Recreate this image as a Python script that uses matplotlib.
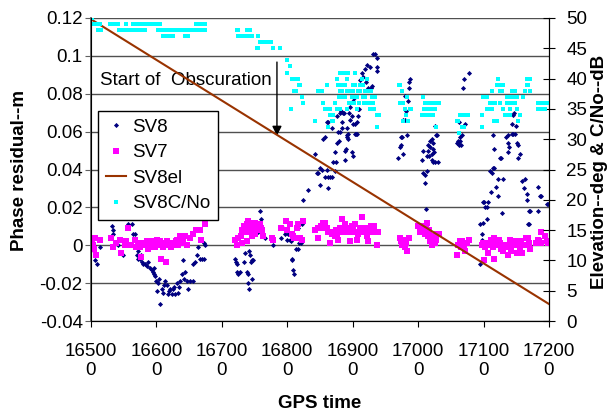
import numpy as np
import matplotlib.pyplot as plt
from matplotlib.ticker import FuncFormatter, MultipleLocator

plt.rcParams['font.family'] = ['Liberation Sans', 'DejaVu Sans']
plt.rcParams['font.size'] = 13.5

# SV8 phase residual (m) : (GPS time, residual)
sv8 = np.array([
    (165015, 0.002), (165031, 0.000), (165046, -0.003), (165061, -0.008), (165092, -0.010), (165138, -0.001),
    (165321, 0.010), (165330, 0.008), (165336, 0.006), (165367, 0.001), (165413, 0.000), (165489, -0.005),
    (165550, 0.000), (165565, 0.011), (165626, 0.011), (165642, 0.006), (165672, 0.006), (165688, 0.002),
    (165703, -0.005), (165718, -0.007), (165720, -0.003), (165749, -0.007), (165760, -0.005), (165779, -0.009),
    (165795, -0.010), (165825, -0.010), (165856, -0.011), (165871, -0.009), (165902, -0.012), (165932, -0.013),
    (165947, -0.014), (165963, -0.015), (165965, -0.012), (165978, -0.016), (165993, -0.019), (166008, -0.024),
    (166024, -0.020), (166040, -0.018), (166054, -0.031), (166085, -0.023), (166100, -0.025), (166110, -0.021),
    (166131, -0.019), (166161, -0.021), (166177, -0.026), (166190, -0.024), (166207, -0.023), (166238, -0.026),
    (166253, -0.023), (166270, -0.022), (166284, -0.026), (166314, -0.020), (166329, -0.025), (166345, -0.022),
    (166360, -0.019), (166390, -0.015), (166406, -0.008), (166420, -0.018), (166436, -0.014), (166467, -0.019),
    (166482, -0.023), (166513, -0.019), (166559, -0.019), (166565, -0.010), (166589, -0.009), (166620, -0.005),
    (166635, -0.001), (166666, -0.007), (166696, -0.007), (166720, 0.001), (166727, -0.007), (166742, 0.000),
    (167200, -0.007), (167216, -0.009), (167231, -0.010), (167235, -0.014), (167246, -0.015), (167277, -0.014),
    (167307, 0.001), (167338, -0.009), (167353, -0.004), (167384, -0.014), (167395, -0.020), (167399, -0.015),
    (167414, -0.003), (167420, -0.023), (167430, -0.005), (167445, -0.009), (167460, -0.008), (167465, -0.018),
    (167475, -0.008), (167506, 0.009), (167537, 0.009), (167552, 0.007), (167582, 0.018), (167598, 0.014),
    (167628, 0.006), (167659, 0.004),
    (167781, 0.000), (167903, 0.004), (167934, 0.009), (167964, 0.006), (167995, 0.003), (168010, 0.006),
    (168041, 0.003), (168056, 0.002), (168071, -0.007), (168075, -0.008), (168087, -0.013), (168102, -0.015),
    (168132, -0.002), (168163, -0.002), (168163, 0.009), (168178, 0.001), (168209, 0.001), (168224, 0.011),
    (168239, 0.024),
    (168316, 0.029), (168423, 0.048), (168453, 0.038), (168469, 0.038), (168499, 0.032), (168499, 0.041),
    (168530, 0.040), (168545, 0.056), (168576, 0.057), (168576, 0.036), (168606, 0.040), (168606, 0.065),
    (168621, 0.030), (168621, 0.065), (168625, 0.036), (168652, 0.036), (168682, 0.062), (168682, 0.036),
    (168698, 0.044), (168728, 0.049), (168728, 0.039), (168743, 0.044), (168759, 0.054), (168759, 0.068),
    (168774, 0.060), (168789, 0.055), (168805, 0.070), (168805, 0.060), (168820, 0.071), (168835, 0.062),
    (168840, 0.065), (168850, 0.070), (168866, 0.070), (168881, 0.045), (168881, 0.050), (168896, 0.051),
    (168911, 0.062), (168911, 0.057), (168920, 0.058), (168927, 0.059), (168935, 0.056), (168942, 0.070),
    (168958, 0.073), (168958, 0.066), (168988, 0.049), (168988, 0.068), (169003, 0.047), (169003, 0.076),
    (169010, 0.064), (169018, 0.078), (169034, 0.059), (169034, 0.064), (169049, 0.059), (169064, 0.065),
    (169064, 0.059), (169080, 0.072), (169080, 0.068), (169095, 0.072), (169110, 0.087), (169141, 0.091),
    (169156, 0.089), (169187, 0.093), (169202, 0.086), (169217, 0.095), (169233, 0.083), (169263, 0.094),
    (169278, 0.083), (169294, 0.084), (169309, 0.101), (169339, 0.101), (169370, 0.099), (169370, 0.094),
    (169375, 0.092),
    (169691, 0.046), (169722, 0.052), (169737, 0.057), (169737, 0.053), (169752, 0.057), (169767, 0.066),
    (169767, 0.048), (169798, 0.066), (169798, 0.079), (169813, 0.071), (169828, 0.058), (169844, 0.076),
    (169859, 0.086), (169859, 0.083), (169874, 0.088),
    (170058, 0.045), (170073, 0.038), (170073, 0.050), (170104, 0.033), (170104, 0.037), (170119, 0.019),
    (170134, 0.047), (170134, 0.039), (170150, 0.050), (170150, 0.053), (170165, 0.047), (170180, 0.052),
    (170180, 0.055), (170211, 0.048), (170211, 0.056), (170211, 0.045), (170226, 0.044), (170226, 0.054),
    (170226, 0.051), (170241, 0.049), (170256, 0.063), (170256, 0.044), (170272, 0.058), (170287, 0.058),
    (170302, 0.044),
    (170592, 0.054), (170608, 0.055), (170608, 0.054), (170623, 0.053), (170623, 0.065), (170638, 0.057),
    (170638, 0.055), (170653, 0.053), (170669, 0.058), (170684, 0.083), (170699, 0.088), (170714, 0.064),
    (170776, 0.091),
    (170944, -0.010), (170944, 0.011), (170974, 0.006), (170974, 0.003), (170990, 0.012), (170990, 0.023),
    (171005, 0.023), (171020, 0.020), (171051, 0.014), (171051, 0.020), (171066, 0.023), (171097, 0.039),
    (171112, 0.028), (171127, 0.038), (171143, 0.041), (171143, 0.058), (171158, 0.051), (171158, 0.041),
    (171188, 0.031), (171219, 0.035), (171219, 0.026), (171250, 0.046), (171265, 0.046), (171280, 0.017),
    (171296, 0.035), (171341, 0.057), (171372, 0.058), (171372, 0.054), (171372, 0.049), (171387, 0.052),
    (171433, 0.059), (171433, 0.064), (171448, 0.059), (171448, 0.069), (171464, 0.070), (171479, 0.059),
    (171494, 0.063), (171509, 0.054), (171525, 0.053), (171525, 0.046), (171555, 0.048), (171586, 0.034),
    (171616, 0.030), (171632, 0.035), (171662, 0.027), (171662, 0.024), (171677, 0.011), (171693, 0.018),
    (171693, 0.011), (171708, 0.018), (171830, 0.031), (171830, 0.018), (171861, 0.026), (171876, 0.026),
    (171968, 0.022), (171983, 0.022),
])

# SV7 phase residual (m)
sv7 = np.array([
    (165000, 0.004), (165015, 0.002), (165031, 0.000), (165046, -0.002), (165061, 0.004), (165076, -0.005),
    (165138, 0.003),
    (165306, 0.004), (165336, -0.001), (165382, 0.001), (165443, 0.003), (165458, -0.004), (165520, 0.000),
    (165535, 0.002), (165565, 0.009), (165611, 0.000), (165672, 0.003), (165688, -0.001), (165718, 0.001),
    (165749, -0.001), (165764, -0.006), (165779, 0.000), (165795, 0.001), (165825, 0.000), (165840, 0.001),
    (165856, 0.002), (165871, -0.002), (165902, 0.001), (165917, -0.001), (165932, 0.002), (165947, 0.000),
    (165978, -0.001), (165993, 0.001), (166008, 0.003), (166024, 0.000), (166054, 0.002), (166069, -0.007),
    (166085, 0.000), (166100, -0.001), (166131, 0.001), (166146, -0.009), (166161, 0.002), (166177, 0.000),
    (166207, 0.001), (166222, -0.001), (166238, 0.000), (166253, 0.001), (166284, 0.000), (166299, 0.002),
    (166314, 0.003), (166329, 0.000), (166360, 0.005), (166390, 0.001), (166406, 0.002), (166436, 0.005),
    (166467, 0.000), (166513, 0.004), (166559, 0.006), (166604, 0.008), (166666, 0.008), (166681, 0.003),
    (166742, 0.011),
    (167200, 0.003), (167231, 0.000), (167246, 0.004), (167292, 0.005), (167307, 0.008), (167307, 0.001),
    (167338, 0.010), (167368, 0.007), (167384, 0.011), (167384, 0.002), (167399, 0.013), (167414, 0.010),
    (167430, 0.009), (167445, 0.012), (167460, 0.008), (167460, 0.005), (167475, 0.010), (167490, 0.009),
    (167506, 0.012), (167506, 0.006), (167521, 0.010), (167537, 0.009), (167552, 0.008), (167567, 0.010),
    (167582, 0.011), (167598, 0.009), (167613, 0.008), (167628, 0.005),
    (167766, 0.004), (167781, 0.003), (167903, 0.009), (167979, 0.013), (167995, 0.008), (168041, 0.011),
    (168071, 0.006), (168087, 0.005), (168102, 0.004), (168148, 0.009), (168163, 0.011), (168194, 0.004),
    (168224, 0.003), (168239, 0.013),
    (168423, 0.008), (168469, 0.009), (168469, 0.004), (168514, 0.010), (168530, 0.009), (168545, 0.012),
    (168576, 0.012), (168606, 0.009), (168621, 0.007), (168652, 0.001), (168682, 0.006), (168698, 0.007),
    (168728, 0.005), (168743, 0.008), (168759, 0.006), (168774, 0.003), (168805, 0.009), (168835, 0.014),
    (168850, 0.007), (168866, 0.008), (168881, 0.011), (168911, 0.009), (168927, 0.007), (168942, 0.009),
    (168958, 0.002), (168988, 0.010), (169003, 0.008), (169018, 0.007), (169034, 0.011), (169064, 0.003),
    (169080, 0.006), (169110, 0.009), (169141, 0.015), (169156, 0.007), (169187, 0.009), (169202, 0.008),
    (169217, 0.005), (169233, 0.002), (169263, 0.008), (169278, 0.010), (169294, 0.007), (169309, 0.009),
    (169324, 0.010), (169339, 0.007), (169370, 0.000), (169385, 0.007),
    (169722, 0.004), (169737, 0.002), (169752, 0.000), (169767, 0.003), (169783, 0.000), (169798, -0.001),
    (169813, 0.001), (169828, -0.003), (169859, 0.004),
    (169997, 0.010), (170027, 0.007), (170058, 0.008), (170073, 0.010), (170104, 0.006), (170119, 0.009),
    (170134, 0.012), (170150, 0.005), (170165, 0.008), (170180, 0.002), (170196, 0.004), (170211, 0.000),
    (170226, 0.003), (170241, 0.005), (170256, 0.001), (170272, 0.003), (170287, 0.006), (170317, 0.006),
    (170592, -0.005), (170608, 0.000), (170638, 0.002), (170653, -0.001), (170669, 0.002), (170699, 0.000),
    (170714, -0.003), (170745, 0.001), (170776, 0.003),
    (170974, 0.000), (170990, 0.001), (171005, -0.008), (171020, -0.001), (171051, 0.001), (171066, -0.004),
    (171097, 0.000), (171112, 0.003), (171143, -0.001), (171158, 0.004), (171158, -0.007), (171188, 0.000),
    (171204, 0.002), (171235, 0.003), (171250, 0.001), (171265, -0.002), (171296, -0.003), (171326, 0.000),
    (171357, -0.001), (171372, -0.005), (171387, 0.000), (171402, 0.003), (171418, -0.003), (171433, 0.001),
    (171448, 0.002), (171464, 0.000), (171479, 0.000), (171494, 0.002), (171509, -0.004), (171525, 0.000),
    (171540, 0.001), (171555, -0.001), (171570, 0.002), (171586, -0.004), (171616, 0.000), (171647, 0.004),
    (171677, 0.004), (171693, 0.001), (171708, -0.002), (171800, 0.001), (171830, 0.003), (171845, 0.002),
    (171876, 0.007), (171876, 0.001), (171937, 0.005), (171968, 0.002), (171983, 0.001),
])

# SV8 elevation (deg)
sv8el_time = [165000, 172000]
sv8el_deg = [49.8, 2.8]

# SV8 C/No (dB)
sv8cn0 = np.array([
    (165000, 50), (165020, 50), (165015, 49), (165045, 49), (165075, 49), (165105, 49), (165135, 49),
    (165110, 48), (165150, 48), (165290, 49), (165330, 49), (165370, 49), (165410, 49), (165535, 49),
    (165430, 48), (165475, 48), (165520, 48), (165565, 48), (165610, 48), (165655, 48), (165700, 48),
    (165745, 48), (165790, 48), (165825, 48),
    (165645, 49), (165690, 49), (165735, 49), (165780, 49), (165825, 49), (165870, 49), (165915, 49),
    (165960, 49), (166005, 49), (166050, 49),
    (166025, 48), (166070, 48), (166115, 48), (166160, 48), (166205, 48), (166250, 48), (166295, 48),
    (166340, 48), (166385, 48), (166430, 48), (166475, 48), (166520, 48), (166565, 48), (166610, 48),
    (166655, 48), (166700, 48), (166740, 48),
    (166100, 47), (166145, 47), (166190, 47), (166235, 47), (166255, 47), (166440, 47), (166480, 47),
    (166605, 49), (166650, 49), (166695, 49), (166740, 49),
    (167230, 48), (167250, 48), (167385, 48), (167430, 48),
    (167245, 47), (167290, 47), (167335, 47), (167380, 47), (167425, 47), (167460, 47), (167550, 47),
    (167580, 46), (167625, 46), (167660, 46), (167705, 46), (167750, 46),
    (167535, 45), (167550, 45), (167780, 45), (167890, 45),
    (167995, 43), (168040, 42), (167995, 41), (168070, 40), (168115, 40), (168160, 40), (168180, 39),
    (168100, 38), (168130, 38), (168225, 37), (168240, 36), (168055, 35), (168194, 39),
    (168423, 33), (168469, 38), (168499, 38), (168530, 38), (168545, 36), (168576, 35), (168606, 35),
    (168621, 35), (168606, 39), (168621, 32), (168652, 34), (168652, 35), (168682, 33), (168698, 33),
    (168698, 34), (168728, 36), (168759, 35), (168759, 40), (168774, 39), (168789, 37), (168805, 41),
    (168805, 38), (168805, 35), (168835, 39), (168835, 38), (168850, 41), (168850, 37), (168866, 41),
    (168881, 37), (168881, 39), (168896, 41), (168911, 40), (168911, 38), (168911, 35), (168927, 41),
    (168942, 36), (168958, 38), (168958, 36), (168988, 37), (169003, 39), (169003, 38), (169018, 36),
    (169034, 41), (169034, 39), (169049, 37), (169064, 37), (169064, 35), (169080, 38), (169095, 36),
    (169110, 39), (169110, 38), (169141, 40), (169141, 39), (169156, 39), (169156, 37), (169172, 36),
    (169187, 37), (169187, 38), (169202, 36), (169217, 36), (169217, 40), (169233, 38), (169263, 36),
    (169263, 35), (169278, 38), (169294, 35), (169294, 37), (169309, 36), (169324, 35), (169339, 37),
    (169370, 34), (169385, 34), (169370, 32), (169400, 34),
    (169706, 39), (169722, 39), (169752, 38), (169722, 36), (169752, 36), (169767, 36), (169767, 33),
    (169798, 35), (169813, 34), (169828, 37), (169844, 33), (169874, 35), (169889, 35),
    (170058, 34), (170073, 37), (170088, 35), (170104, 36), (170119, 34), (170134, 36), (170150, 35),
    (170165, 34), (170180, 36), (170196, 35), (170211, 36), (170226, 34), (170241, 36), (170256, 35),
    (170272, 32), (170287, 36), (170302, 36), (170317, 36),
    (170592, 33), (170608, 33), (170623, 31), (170638, 34), (170669, 32), (170684, 34), (170699, 32),
    (170714, 34), (170760, 34),
    (170974, 34), (170974, 32), (170990, 37), (171020, 37), (171051, 37), (171051, 35), (171097, 35),
    (171097, 36), (171127, 38), (171127, 35), (171143, 36), (171158, 33), (171173, 36), (171204, 33),
    (171204, 39), (171219, 40), (171250, 39), (171250, 38), (171250, 36), (171280, 38), (171296, 35),
    (171296, 39), (171326, 34), (171357, 37), (171357, 36), (171372, 34), (171372, 36), (171402, 35),
    (171402, 37), (171402, 34), (171433, 38), (171433, 36), (171448, 37), (171479, 38), (171479, 36),
    (171509, 37), (171509, 35), (171525, 33), (171555, 34), (171601, 37), (171632, 38), (171662, 40),
    (171662, 39), (171677, 39), (171708, 38), (171708, 40), (171830, 36), (171830, 35), (171861, 36),
    (171891, 35), (171907, 36), (171937, 35), (171968, 36),
])

fig = plt.figure(figsize=(6.08, 4.13), dpi=100)
ax = fig.add_axes([91 / 608, 1 - 321 / 413, 458 / 608, 303 / 413])
ax2 = ax.twinx()

l8, = ax.plot(sv8[:, 0], sv8[:, 1], 'D', color='#000080', ms=2.6, mew=0, label='SV8')
l7, = ax.plot(sv7[:, 0], sv7[:, 1], 's', color='#FF00FF', ms=4.4, mew=0, label='SV7')
lel, = ax2.plot(sv8el_time, sv8el_deg, '-', color='#993300', lw=1.5, label='SV8el')
lcn, = ax2.plot(sv8cn0[:, 0], sv8cn0[:, 1], 's', color='#00FFFF', ms=2.7, mew=0, label='SV8C/No')

ax.set_xlim(165000, 172000)
ax.set_ylim(-0.04, 0.12)
ax2.set_ylim(0, 50)
ax.xaxis.set_major_locator(MultipleLocator(1000))
ax.yaxis.set_major_locator(MultipleLocator(0.02))
ax2.yaxis.set_major_locator(MultipleLocator(5))
ax.xaxis.set_major_formatter(FuncFormatter(lambda v, p: "%d\n%d" % (int(round(v)) // 10, int(round(v)) % 10)))
ax.yaxis.set_major_formatter(FuncFormatter(lambda v, p: "%g" % round(v, 3)))

ax.grid(axis='y', color='#505050', lw=1)
ax.set_axisbelow(True)
ax.spines['top'].set_visible(False)
ax2.spines['top'].set_visible(False)
ax.spines['left'].set_color('#606060')
ax.spines['left'].set_linewidth(1.3)
ax2.spines['right'].set_color('black')
ax.tick_params(axis='y', direction='out', length=4.5, pad=1.5, color='#606060')
ax.tick_params(axis='x', direction='out', length=4.5, pad=11)
ax2.tick_params(axis='y', direction='inout', length=9, pad=8)

ax.text(165138, 0.0845, 'Start of  Obscuration', va='baseline', ha='left')
ax.annotate('', xy=(167842, 0.0564), xytext=(167842, 0.0982),
            arrowprops=dict(arrowstyle='-|>', color='black', lw=1, mutation_scale=14))

leg = ax2.legend(handles=[l8, l7, lel, lcn], loc='upper left', bbox_to_anchor=(0.0153, 0.693),
                 borderaxespad=0, fancybox=False, framealpha=1, edgecolor='black',
                 handlelength=1.1, handletextpad=0.3, labelspacing=0.45, borderpad=0.4)
leg.get_frame().set_linewidth(1)

fig.text(20 / 608, 1 - 170 / 413, 'Phase residual--m', rotation=90, ha='center', va='center', fontweight='bold')
fig.text(600 / 608, 1 - 172 / 413, 'Elevation--deg & C/No--dB', rotation=90, ha='center', va='center', fontweight='bold')
fig.text(320 / 608, 5 / 413, 'GPS time', ha='center', va='baseline', fontweight='bold')

fig.savefig('out.png', dpi=100)
